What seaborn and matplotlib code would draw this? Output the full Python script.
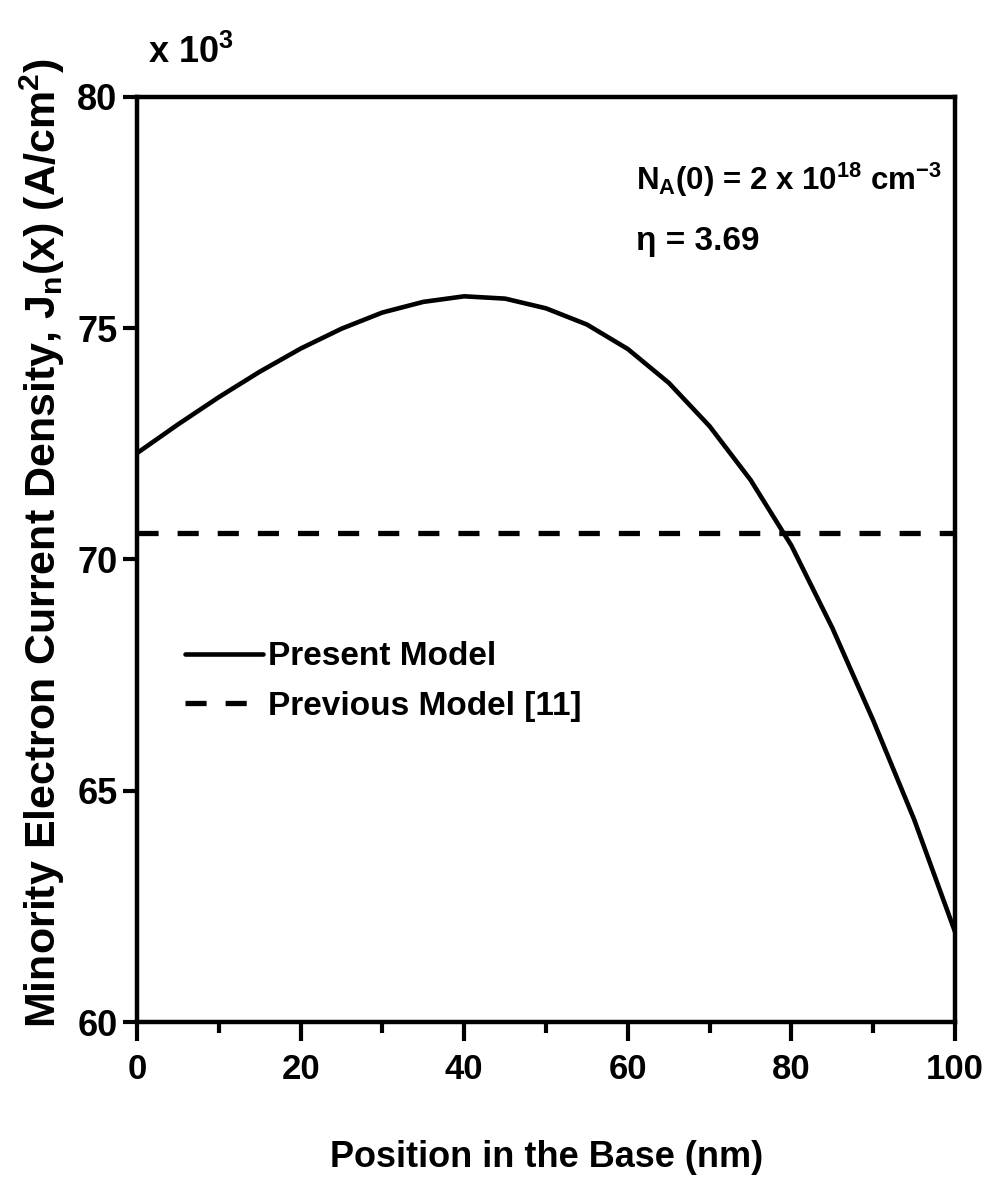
import matplotlib
matplotlib.use("Agg")
import matplotlib.pyplot as plt
import seaborn as sns
import pandas as pd

# ---- data (values in units of 10^3 A/cm^2) ----
position_nm = [0, 5, 10, 15, 20, 25, 30, 35, 40, 45, 50,
               55, 60, 65, 70, 75, 80, 85, 90, 95, 100]
present_model = [72.30, 72.92, 73.51, 74.06, 74.56, 74.99, 75.34, 75.57, 75.69, 75.64, 75.43,
                 75.08, 74.55, 73.82, 72.88, 71.72, 70.30, 68.52, 66.52, 64.38, 61.95]
previous_x = [0, 100]
previous_model = [70.57, 70.57]
x_ticks = [0, 20, 40, 60, 80, 100]
x_minor = [10, 30, 50, 70, 90]
y_ticks = [60, 65, 70, 75, 80]

sns.set_theme(style="white")
FONT = ["Liberation Sans", "DejaVu Sans"]
plt.rcParams["font.family"] = FONT
plt.rcParams["mathtext.fontset"] = "custom"
plt.rcParams["mathtext.rm"] = "Liberation Sans:bold"
plt.rcParams["mathtext.it"] = "Liberation Sans:bold"
plt.rcParams["mathtext.bf"] = "Liberation Sans:bold"
plt.rcParams["mathtext.sf"] = "Liberation Sans:bold"

fig = plt.figure(figsize=(9.86, 11.81), dpi=100)
ax = fig.add_axes([0.139, 0.1346, 0.8296, 0.7833])

df_present = pd.DataFrame({"x": position_nm, "y": present_model})
df_prev = pd.DataFrame({"x": previous_x, "y": previous_model})

sns.lineplot(data=df_present, x="x", y="y", ax=ax, color="black", lw=3.3,
             label="Present Model")
sns.lineplot(data=df_prev, x="x", y="y", ax=ax, color="black", lw=3.8,
             label="Previous Model [11]")
ax.lines[1].set_dashes((4.0, 3.6))

ax.set_xlim(0, 100)
ax.set_ylim(60, 80)
ax.set_xticks(x_ticks)
ax.set_xticks(x_minor, minor=True)
ax.set_yticks(y_ticks)

for s in ax.spines.values():
    s.set_linewidth(3.2)
    s.set_color("black")

ax.tick_params(axis="x", which="major", direction="out", length=14, width=3,
               bottom=True, top=False, pad=8, labelsize=25, color="black",
               labelcolor="black")
ax.tick_params(axis="x", which="minor", direction="out", length=8, width=3,
               bottom=True, top=False, color="black")
ax.tick_params(axis="y", which="major", direction="out", length=10, width=3,
               left=True, right=False, pad=4, labelsize=26, color="black",
               labelcolor="black")

for lab in ax.get_xticklabels() + ax.get_yticklabels():
    lab.set_fontweight("bold")

ax.set_xlabel("Position in the Base (nm)", fontsize=26, fontweight="bold",
              color="black")
ax.xaxis.set_label_coords(0.501, -0.127)
ax.set_ylabel(r"Minority Electron Current Density, J$_\mathregular{n}$(x) (A/cm$^\mathregular{2}$)",
              fontsize=31, fontweight="bold", color="black")
ax.yaxis.set_label_coords(-0.086, 0.518)

fig.text(0.150, 0.947, r"x 10$^\mathregular{3}$", fontsize=26, fontweight="bold",
         color="black", va="baseline")

ax.text(0.61, 0.8995, r"N$_\mathregular{A}$(0) = 2 x 10$^\mathregular{18}$ cm$^\mathregular{-3}$",
        transform=ax.transAxes, fontsize=22.5, fontweight="bold", color="black",
        va="baseline")
ax.text(0.61, 0.8346, "\u03b7 = 3.69", transform=ax.transAxes, fontsize=24,
        fontweight="bold", color="black", va="baseline")

leg = ax.legend(loc="upper left", bbox_to_anchor=(0.022, 0.444), frameon=False,
                handlelength=2.35, handletextpad=0.15, labelspacing=0.55,
                prop={"family": FONT, "weight": "bold", "size": 24})
for t in leg.get_texts():
    t.set_color("black")

fig.savefig("out.png", dpi=100, facecolor="white")
